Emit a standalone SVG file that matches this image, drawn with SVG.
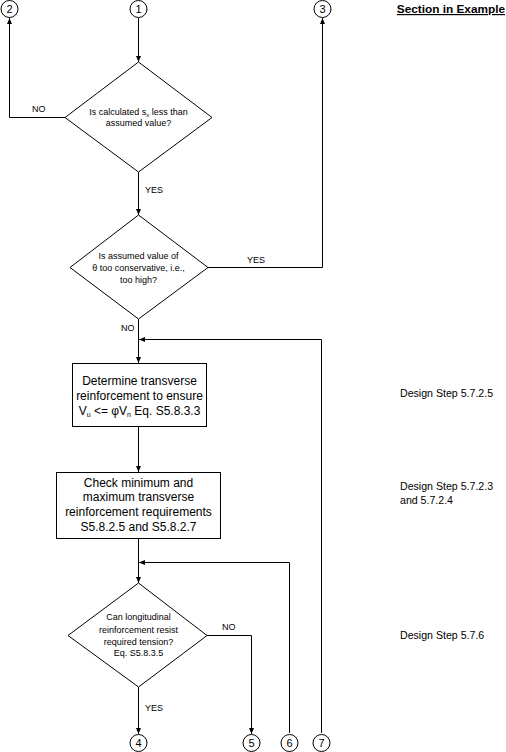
<svg xmlns="http://www.w3.org/2000/svg" width="506" height="752" viewBox="0 0 506 752">
<style>
.shape{fill:#fff;stroke:#000;stroke-width:1}
.conn{fill:none;stroke:#000;stroke-width:1}
.t{font-family:"Liberation Sans",Arial,sans-serif;fill:#000}
.c{font-size:11px;text-anchor:middle}
.d{font-size:9px;text-anchor:middle}
.b{font-size:12px;text-anchor:middle}
.l{font-size:9px}
.s{font-size:10.6px}
</style>
<defs>
<marker id="ah" viewBox="0 0 6 6" refX="6" refY="3" markerWidth="6" markerHeight="6" markerUnits="userSpaceOnUse" orient="auto">
<path d="M0,0.5 L6,3 L0,5.5 Z" fill="#000"/>
</marker>
</defs>
<rect width="506" height="752" fill="#fff"/>
<g id="connectors">
<path class="conn" d="M138.5,18 V62" marker-end="url(#ah)"/>
<path class="conn" d="M65,117.5 H9.5 V18" marker-end="url(#ah)"/>
<path class="conn" d="M138.5,172 V215" marker-end="url(#ah)"/>
<path class="conn" d="M208,267.5 H322.5 V18" marker-end="url(#ah)"/>
<path class="conn" d="M138.5,319 V363" marker-end="url(#ah)"/>
<path class="conn" d="M321.5,733 V339.5 H139" marker-end="url(#ah)"/>
<path class="conn" d="M138.5,427 V472" marker-end="url(#ah)"/>
<path class="conn" d="M138.5,539 V583" marker-end="url(#ah)"/>
<path class="conn" d="M289.5,733 V562.5 H139" marker-end="url(#ah)"/>
<path class="conn" d="M138.5,687 V734" marker-end="url(#ah)"/>
<path class="conn" d="M207,635.5 H251.5 V734" marker-end="url(#ah)"/>
<text class="t l" x="32" y="112">NO</text>
<text class="t l" x="145" y="193">YES</text>
<text class="t l" x="247" y="263">YES</text>
<text class="t l" x="121" y="331">NO</text>
<text class="t l" x="222" y="630">NO</text>
<text class="t l" x="145" y="711">YES</text>
</g>
<g id="c1"><circle class="shape" cx="138.5" cy="9" r="8.5"/><text class="t c" x="138.5" y="13">1</text></g>
<g id="c2"><circle class="shape" cx="9.5" cy="9" r="8.5"/><text class="t c" x="9.5" y="13">2</text></g>
<g id="c3"><circle class="shape" cx="322.5" cy="9" r="8.5"/><text class="t c" x="322.5" y="13">3</text></g>
<g id="c4"><circle class="shape" cx="138.5" cy="743" r="8.5"/><text class="t c" x="138.5" y="747">4</text></g>
<g id="c5"><circle class="shape" cx="251.5" cy="743" r="8.5"/><text class="t c" x="251.5" y="747">5</text></g>
<g id="c6"><circle class="shape" cx="289.5" cy="743" r="8.5"/><text class="t c" x="289.5" y="747">6</text></g>
<g id="c7"><circle class="shape" cx="321.5" cy="743" r="8.5"/><text class="t c" x="321.5" y="747">7</text></g>
<g id="dec1">
<polygon class="shape" points="138.5,62 212,117.5 138.5,172 65,117.5"/>
<text class="t d" x="138.5" y="115">Is calculated s<tspan font-size="6" dy="2">x</tspan><tspan dy="-2"> less than</tspan></text>
<text class="t d" x="138.5" y="126">assumed value?</text>
</g>
<g id="dec2">
<polygon class="shape" points="138.5,215 208,267.5 138.5,319 70,267.5"/>
<text class="t d" x="138.5" y="259">Is assumed value of</text>
<text class="t d" x="138.5" y="271">θ too conservative, i.e.,</text>
<text class="t d" x="138.5" y="283">too high?</text>
</g>
<g id="box1">
<rect class="shape" x="72.5" y="363.5" width="134" height="63"/>
<text class="t b" x="139.5" y="385">Determine transverse</text>
<text class="t b" x="139.5" y="400">reinforcement to ensure</text>
<text class="t b" x="139.5" y="415">V<tspan font-size="7" dy="2">u</tspan><tspan dy="-2"> &lt;= φV</tspan><tspan font-size="7" dy="2">n</tspan><tspan dy="-2"> Eq. S5.8.3.3</tspan></text>
</g>
<g id="box2">
<rect class="shape" x="56.5" y="472.5" width="164" height="66"/>
<text class="t b" x="138.5" y="487">Check minimum and</text>
<text class="t b" x="138.5" y="501">maximum transverse</text>
<text class="t b" x="138.5" y="516">reinforcement requirements</text>
<text class="t b" x="138.5" y="531">S5.8.2.5 and S5.8.2.7</text>
</g>
<g id="dec3">
<polygon class="shape" points="138.5,583 207,635.5 138.5,687 68,635.5"/>
<text class="t d" x="138.5" y="620">Can longitudinal</text>
<text class="t d" x="138.5" y="633">reinforcement resist</text>
<text class="t d" x="138.5" y="645">required tension?</text>
<text class="t d" x="138.5" y="656">Eq. S5.8.3.5</text>
</g>
<g id="notes">
<text class="t" x="505" y="13" font-size="11.8" font-weight="bold" text-anchor="end" text-decoration="underline">Section in Example</text>
<text class="t s" x="400" y="397">Design Step 5.7.2.5</text>
<text class="t s" x="400" y="490">Design Step 5.7.2.3</text>
<text class="t s" x="400" y="504">and 5.7.2.4</text>
<text class="t s" x="400" y="639">Design Step 5.7.6</text>
</g>
</svg>
